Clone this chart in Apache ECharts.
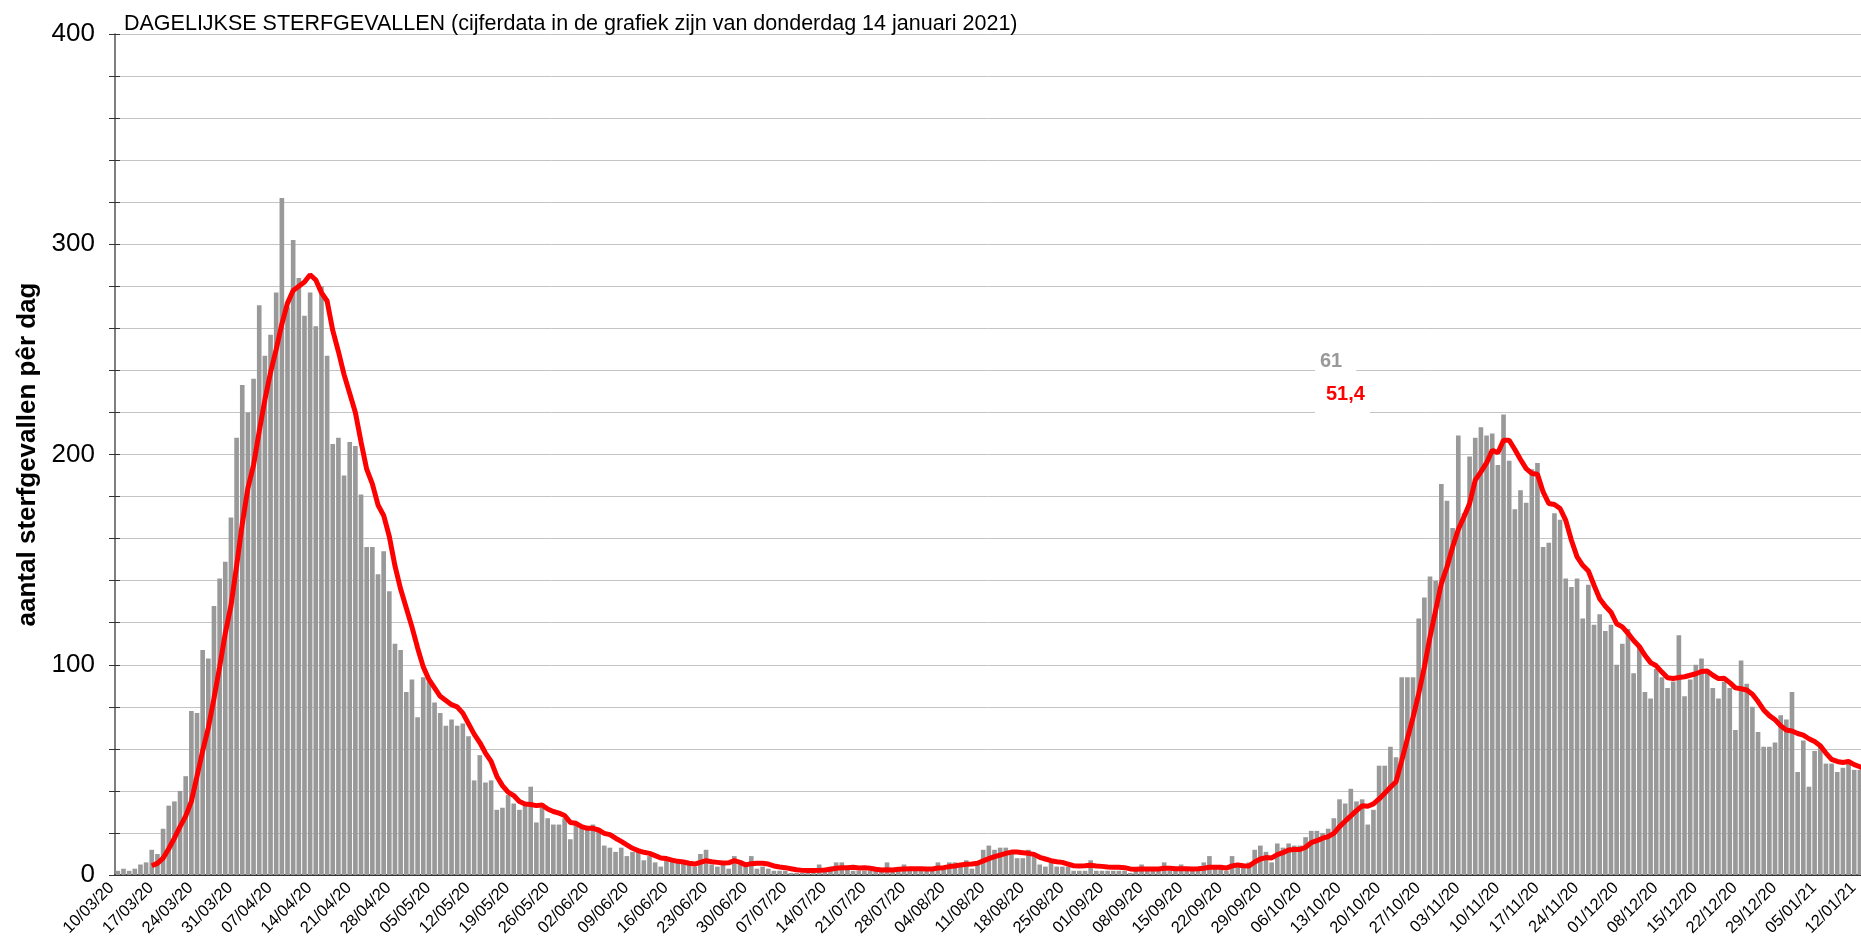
<!DOCTYPE html>
<html>
<head>
<meta charset="utf-8">
<title>Dagelijkse sterfgevallen</title>
<script src="https://cdn.jsdelivr.net/npm/echarts@6/dist/echarts.min.js"></script>
<style>
  html, body { margin: 0; padding: 0; background: #fff; }
  #chart { width: 1861px; height: 948px; }
</style>
</head>
<body>
<div id="chart"></div>
<script>
// eerste dag in de grafiek en aantal dagen (10/03/20 t/m 14/01/21)
var startDay = [2020, 2, 10];
var dayCount = 311;

// sterfgevallen per dag (grijze staven)
var deaths = [
  2, 3, 2, 3, 5, 6, 12, 10, 22, 33, 35, 40, 47, 78, 77, 107, 103, 128, 141, 149,
  170, 208, 233, 220, 236, 271, 247, 257, 277, 322, 270, 302, 284, 266, 277, 261, 280, 247, 205, 208,
  190, 206, 204, 181, 156, 156, 143, 154, 135, 110, 107, 87, 93, 75,
  94, 92, 82, 77, 71, 74, 71, 72, 66, 45, 57, 44, 45, 31, 32, 38, 34, 31, 34, 42,
  25, 32, 27, 24, 24, 27, 17, 24, 23, 23, 24, 21, 14, 13, 11, 13, 9, 11, 11, 7,
  9, 6, 4, 7, 7, 6, 6, 5, 4, 10, 12, 5, 4, 5, 3,
  9, 5, 4, 9, 3, 4, 3, 2, 2, 2, 1, 1, 1, 1, 1, 5, 2, 4, 6, 6,
  3, 2, 2, 2, 2, 2, 2, 6, 2, 2, 5, 2, 3, 2, 2, 2, 6, 4, 6, 6, 5, 7, 3, 5,
  12, 14, 12, 13, 13, 11, 8, 8, 12, 9, 5, 4, 6, 4, 4, 4, 2, 2, 2, 7,
  2, 2, 2, 2, 2, 2, 1, 2, 5, 2, 2, 2, 6, 2, 2, 5, 2, 2, 2, 6, 9, 3,
  3, 2, 9, 5, 4, 6, 12, 14, 11, 6, 15, 13, 15, 14, 14, 18, 21, 21, 20, 22,
  27, 36, 34, 41, 35, 36, 24, 31, 52, 52, 61, 56, 94, 94, 94, 122,
  132, 142, 140, 186, 178, 165, 209, 172, 199, 208, 213, 209, 210, 195, 219, 197, 174, 183, 177, 193,
  196, 156, 158, 172, 169, 141, 137, 141, 122, 138, 119, 124, 116, 119, 100, 110, 117, 96,
  108, 87, 84, 98, 94, 89, 92, 114, 85, 93, 100, 103, 97, 89, 84, 92, 89, 69, 102, 91,
  80, 68, 61, 61, 63, 76, 74, 87, 49, 64, 42, 59, 62, 53, 53, 49, 51, 54, 50, 50,
  45, 61
];

// 7-daags gemiddelde (rode lijn)
var average = [
  null, null, null, null, null, null,
  4.4, 5.5, 8, 12.5, 17.5, 23, 28, 35, 47, 59, 70, 84, 99, 115, 128, 147, 167, 184, 195, 211,
  226, 239, 250, 262, 272, 278, 280, 282, 285.5, 283, 277, 273, 259, 249, 238, 229, 220, 206, 193, 186,
  176, 171, 161, 147, 136, 127, 118, 108,
  99, 93, 89, 85, 83, 81, 80, 77, 72, 67, 63, 58, 54, 47, 42.5, 39.4, 37.8, 35, 33.8, 33.5,
  33, 33.3, 31.4, 30.2, 29.4, 28.3, 25, 24.6, 23, 22.2, 22.2, 21.4, 19.8, 19.2, 17.5, 16, 14.3, 12.7, 11.6, 10.8,
  10.3, 9.2, 8.1, 7.8, 7.1, 6.5, 6.2, 5.6, 5.2, 6, 6.8, 6.3, 6, 5.7, 5.8,
  6.8, 6, 4.8, 5.4, 5.6, 5.6, 5.2, 4.3, 3.8, 3.5, 3, 2.5, 2.2, 2.1, 2.1, 2.2, 2.4, 2.7, 3.2, 3.5,
  3.5, 3.7, 3.3, 3.5, 3.2, 2.7, 2.4, 2.5, 2.4, 2.7, 2.9, 3, 3, 3, 2.9, 2.9, 3.3, 3.5, 4, 4.3,
  4.8, 5.1, 5.2, 5.6, 6.7, 7.8, 8.7, 9.5, 10.3, 10.9, 10.9, 10.6, 10.3, 9.8, 8.4, 7.6, 6.8, 6.3, 6, 5.2,
  4.4, 4.3, 4.4, 4.6, 4.3, 4.1, 3.8, 3.7, 3.7, 3.5, 2.9, 2.7, 2.9, 2.9, 2.9, 2.9, 3.2, 3.2, 3, 3,
  3, 2.9, 3, 3.2, 3.7, 3.7,
  3.7, 3.3, 4.3, 4.8, 4.4, 4.3, 6.2, 7.6, 8.3, 8.1, 9.7, 10.6, 11.9, 12.1, 12.1, 13.2, 15.4, 16.3, 17.5, 18.3,
  19.8, 23, 25.6, 28.1, 30.6, 32.9, 32.7, 33.8, 36.2, 38.9, 41.7, 44.4, 54.4, 64.8, 75, 86.2,
  98.9, 113.2, 125.9, 138.6, 146.5, 156, 164.3, 170.3, 176.7, 187.8, 191.7, 196, 202, 200.8, 206.8, 206.8, 202.4, 197.6, 193.3, 191,
  190.6, 182.2, 176.7, 176.2, 174.3, 168.7, 159.2, 151.3, 147.3, 144.6, 137.8, 131.4, 127.8, 125, 119.5,
  118, 115, 111.5, 108.7, 104.5, 101, 99.5, 96.5, 93.8, 93.5, 93.9, 94.3, 95, 95.7, 96.8, 97, 95, 93.4, 93.6, 91.5,
  89, 88.6, 88, 86, 82.5, 78.5, 75.8, 73.8, 71, 69, 68.5, 67.3, 66.5, 64.8, 63.5, 61.5, 58, 55, 54, 53.5,
  54, 52.5, 51.5, 50.3, 51.4
];

// y-as
var yMin = 0, yMax = 400, yStep = 20, yLabelStep = 100;

function pad(n) { return n < 10 ? '0' + n : '' + n; }

var dates = [];
for (var i = 0; i < dayCount; i++) {
  var d = new Date(startDay[0], startDay[1], startDay[2] + i);
  dates.push(pad(d.getDate()) + '/' + pad(d.getMonth() + 1) + '/' + String(d.getFullYear()).slice(2));
}

var lastDeaths = String(deaths[deaths.length - 1]);
var lastAverage = String(average[average.length - 1]).replace('.', ',');

var font = "'Liberation Sans', Arial, sans-serif";

var myChart = echarts.init(document.getElementById('chart'));
var option = {
  animation: false,
  backgroundColor: '#fff',
  title: {
    text: 'DAGELIJKSE STERFGEVALLEN (cijferdata in de grafiek zijn van donderdag 14 januari 2021)',
    left: 119,
    top: 8,
    textStyle: {
      fontFamily: font,
      fontSize: 21.5,
      fontWeight: 'normal',
      color: '#000'
    }
  },
  // het plotvlak loopt iets voorbij de rechterrand (laatste dagen vallen weg)
  grid: {
    left: 115,
    width: 1759,
    top: 34,
    bottom: 73,
    containLabel: false,
    outerBoundsMode: 'none'
  },
  xAxis: [
    {
      type: 'category',
      data: dates,
      boundaryGap: true,
      axisLine: { lineStyle: { color: '#000', width: 1.5 } },
      axisTick: { interval: 0, length: 4, lineStyle: { color: '#000' } },
      axisLabel: {
        interval: 6,
        rotate: 45,
        margin: 4,
        padding: [0, 9, 0, 0],
        fontSize: 16.5,
        fontFamily: font,
        color: '#000'
      },
      splitLine: { show: false }
    },
    {
      // grote streepjes per week
      type: 'category',
      data: dates,
      position: 'bottom',
      boundaryGap: true,
      axisLine: { show: false },
      axisTick: { interval: 6, length: 9, lineStyle: { color: '#000' } },
      axisLabel: { show: false },
      splitLine: { show: false }
    }
  ],
  yAxis: [
    {
      type: 'value',
      min: yMin,
      max: yMax,
      interval: yStep,
      name: 'aantal sterfgevallen pêr dag',
      nameLocation: 'middle',
      nameGap: 73,
      nameTextStyle: {
        fontFamily: font,
        fontSize: 26,
        fontWeight: 'bold',
        color: '#000'
      },
      axisLine: { show: true, lineStyle: { color: '#555', width: 1.5 } },
      axisTick: { show: true, length: 6, lineStyle: { color: '#333' } },
      axisLabel: {
        margin: 20,
        fontSize: 26,
        fontFamily: font,
        color: '#000',
        formatter: function (v) { return v % yLabelStep === 0 ? v : ''; }
      },
      splitLine: { show: true, lineStyle: { color: '#c4c4c4', width: 1 } }
    },
    {
      // streepjes aan de binnenkant van de y-as
      type: 'value',
      min: yMin,
      max: yMax,
      interval: yStep,
      position: 'left',
      axisLine: { show: false },
      axisTick: { show: true, inside: true, length: 5, lineStyle: { color: '#333' } },
      axisLabel: { show: false },
      splitLine: { show: false }
    }
  ],
  series: [
    {
      name: 'sterfgevallen',
      type: 'bar',
      data: deaths,
      barCategoryGap: '18%',
      itemStyle: { color: '#999999' },
      z: 2
    },
    {
      name: '7-daags gemiddelde',
      type: 'line',
      data: average,
      showSymbol: false,
      symbol: 'none',
      lineStyle: { color: '#ff0000', width: 5 },
      z: 3
    }
  ],
  graphic: [
    {
      type: 'text',
      left: 1315,
      top: 349,
      z: 10,
      style: {
        text: lastDeaths,
        font: "bold 20px 'Liberation Sans', Arial, sans-serif",
        fill: '#999999',
        backgroundColor: '#fff',
        padding: [2, 14, 6, 5]
      }
    },
    {
      type: 'text',
      left: 1315,
      top: 382,
      z: 10,
      style: {
        text: lastAverage,
        font: "bold 20px 'Liberation Sans', Arial, sans-serif",
        fill: '#ff0000',
        backgroundColor: '#fff',
        padding: [2, 5, 9, 11]
      }
    }
  ]
};
myChart.setOption(option);
</script>
</body>
</html>
